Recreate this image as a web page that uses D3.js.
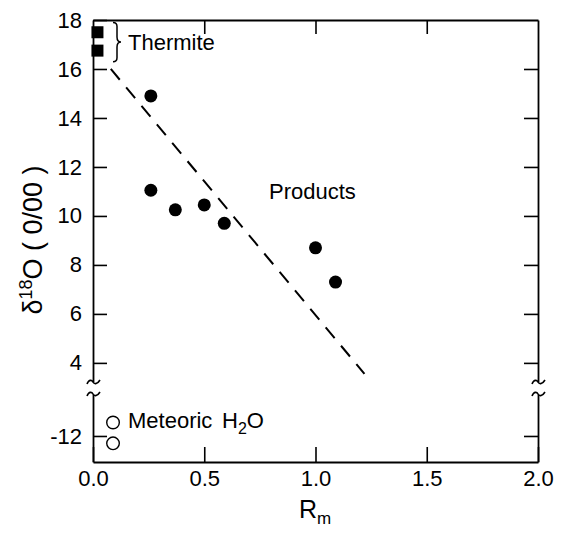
<!DOCTYPE html>
<html>
<head>
<meta charset="utf-8">
<script src="https://cdn.jsdelivr.net/npm/d3@7/dist/d3.min.js"></script>
<style>
  html, body { margin: 0; padding: 0; background: #fff; }
  svg { display: block; }
  text { font-family: "Liberation Sans", Arial, Helvetica, sans-serif; fill: #000; }
</style>
</head>
<body>
<svg id="chart" width="563" height="534"></svg>
<script>
// Oxygen isotope ratio vs. Rm for thermite reactants, products and meteoric water
const productsRm   = [0.26, 0.26, 0.37, 0.50, 0.59, 1.00, 1.09];
const productsD18O = [14.9, 11.05, 10.25, 10.45, 9.7, 8.7, 7.3];

const thermiteRm   = [0.02, 0.02];
const thermiteD18O = [17.5, 16.75];

const meteoricRm   = [0.09, 0.09];
const meteoricD18O = [-11.45, -12.3];

const trendRm   = [0.08, 1.22];
const trendD18O = [16.0, 3.55];

const xTicks      = [0, 0.5, 1.0, 1.5, 2.0];
const yUpperTicks = [4, 6, 8, 10, 12, 14, 16, 18];
const yLowerTicks = [-12];

const svg = d3.select("#chart");
const plotL = 93, plotR = 538, plotT = 20, plotB = 462;
const breakHi = 382, breakLo = 394;

const x = d3.scaleLinear().domain([0, 2]).range([plotL, plotR]);
// broken y axis: upper segment for positive values, lower for meteoric water
const yUp = d3.scaleLinear().domain([3.22, 18]).range([breakHi, plotT]);
const yLo = d3.scaleLinear().domain([-13.06, -10.29]).range([plotB, breakLo]);
const yAny = v => v >= 0 ? yUp(v) : yLo(v);

const fontSize = 22;
const plainInt = d => String(d);   // keeps an ASCII hyphen for negatives

function styleAxis(g) {
  g.selectAll(".domain").attr("stroke", "#000").attr("stroke-width", 1.8);
  g.selectAll(".tick line").attr("stroke", "#000").attr("stroke-width", 1.6);
  g.selectAll(".tick text")
    .attr("font-size", fontSize)
    .attr("font-family", "\"Liberation Sans\", Arial, sans-serif")
    .attr("fill", "#000");
}

// bottom axis with inward ticks
svg.append("g")
  .attr("transform", `translate(0,${plotB})`)
  .call(d3.axisBottom(x).tickValues(xTicks).tickFormat(d3.format(".1f"))
    .tickSizeInner(-15).tickSizeOuter(0).tickPadding(8))
  .call(styleAxis);

// top axis, ticks only
svg.append("g")
  .attr("transform", `translate(0,${plotT})`)
  .call(d3.axisBottom(x).tickValues(xTicks.slice(1, -1)).tickFormat("")
    .tickSizeInner(14).tickSizeOuter(0))
  .call(styleAxis);

// left axis segments
svg.append("g")
  .attr("transform", `translate(${plotL},0)`)
  .call(d3.axisLeft(yUp).tickValues(yUpperTicks).tickFormat(plainInt)
    .tickSizeInner(-14).tickSizeOuter(0).tickPadding(11))
  .call(styleAxis);
svg.append("g")
  .attr("transform", `translate(${plotL},0)`)
  .call(d3.axisLeft(yLo).tickValues(yLowerTicks).tickFormat(plainInt)
    .tickSizeInner(-14).tickSizeOuter(0).tickPadding(11))
  .call(styleAxis);

// right axis segments
svg.append("g")
  .attr("transform", `translate(${plotR},0)`)
  .call(d3.axisRight(yUp).tickValues(yUpperTicks.slice(0, -1)).tickFormat("")
    .tickSizeInner(-14).tickSizeOuter(0))
  .call(styleAxis);
svg.append("g")
  .attr("transform", `translate(${plotR},0)`)
  .call(d3.axisRight(yLo).tickValues(yLowerTicks).tickFormat("")
    .tickSizeInner(-14).tickSizeOuter(0))
  .call(styleAxis);

// axis-break squiggles
const squiggle = (cx, cy) =>
  `M${cx - 6},${cy + 2} C${cx - 4},${cy - 3} ${cx - 1},${cy - 2} ${cx},${cy} S${cx + 4},${cy + 3} ${cx + 7},${cy - 2}`;
[plotL, plotR].forEach(ax => {
  [breakHi, breakLo].forEach(by => {
    svg.append("path")
      .attr("d", squiggle(ax, by))
      .attr("fill", "none").attr("stroke", "#000").attr("stroke-width", 1.6);
  });
});

// dashed trend line
svg.append("line")
  .attr("x1", x(trendRm[0])).attr("y1", yUp(trendD18O[0]))
  .attr("x2", x(trendRm[1])).attr("y2", yUp(trendD18O[1]))
  .attr("stroke", "#000").attr("stroke-width", 2)
  .attr("stroke-dasharray", "14 10");

// product points
svg.append("g").selectAll("circle")
  .data(d3.zip(productsRm, productsD18O))
  .join("circle")
  .attr("cx", d => x(d[0])).attr("cy", d => yAny(d[1]))
  .attr("r", 6.5).attr("fill", "#000");

// thermite squares
const sq = 12;
svg.append("g").selectAll("rect")
  .data(d3.zip(thermiteRm, thermiteD18O))
  .join("rect")
  .attr("x", d => x(d[0]) - sq / 2).attr("y", d => yUp(d[1]) - sq / 2)
  .attr("width", sq).attr("height", sq).attr("fill", "#000");

// meteoric water points
svg.append("g").selectAll("circle")
  .data(d3.zip(meteoricRm, meteoricD18O))
  .join("circle")
  .attr("cx", d => x(d[0])).attr("cy", d => yAny(d[1]))
  .attr("r", 6.3).attr("fill", "none").attr("stroke", "#000").attr("stroke-width", 1.4);

// brace grouping thermite points
const bx = 113, bTop = yUp(17.9), bBot = yUp(16.3), bMid = (bTop + bBot) / 2;
svg.append("path")
  .attr("d", `M${bx},${bTop} q4,0 4,4 V${bMid - 5} q0,5 4,5 q-4,0 -4,5 V${bBot - 4} q0,4 -4,4`)
  .attr("fill", "none").attr("stroke", "#000").attr("stroke-width", 1.5);

// annotations
svg.append("text").attr("x", 128).attr("y", 50).attr("font-size", fontSize).text("Thermite");
svg.append("text").attr("x", 269).attr("y", 199).attr("font-size", fontSize).text("Products");
svg.append("text").attr("x", 128).attr("y", 428).attr("font-size", fontSize).text("Meteoric");
const h2o = svg.append("text").attr("x", 222).attr("y", 428).attr("font-size", fontSize);
h2o.append("tspan").text("H");
h2o.append("tspan").attr("font-size", 16).attr("dy", 6).text("2");
h2o.append("tspan").attr("dy", -6).text("O");

// axis titles
const xt = svg.append("text").attr("x", 299).attr("y", 518).attr("font-size", 25);
xt.append("tspan").text("R");
xt.append("tspan").attr("font-size", 17).attr("dy", 6).text("m");

const yt = svg.append("text")
  .attr("transform", "translate(42,240) rotate(-90)")
  .attr("text-anchor", "middle").attr("font-size", 27);
yt.append("tspan").text("δ");
yt.append("tspan").attr("font-size", 18).attr("dy", -10).text("18");
yt.append("tspan").attr("dy", 10).text("O ( 0/00 )");
</script>
</body>
</html>
